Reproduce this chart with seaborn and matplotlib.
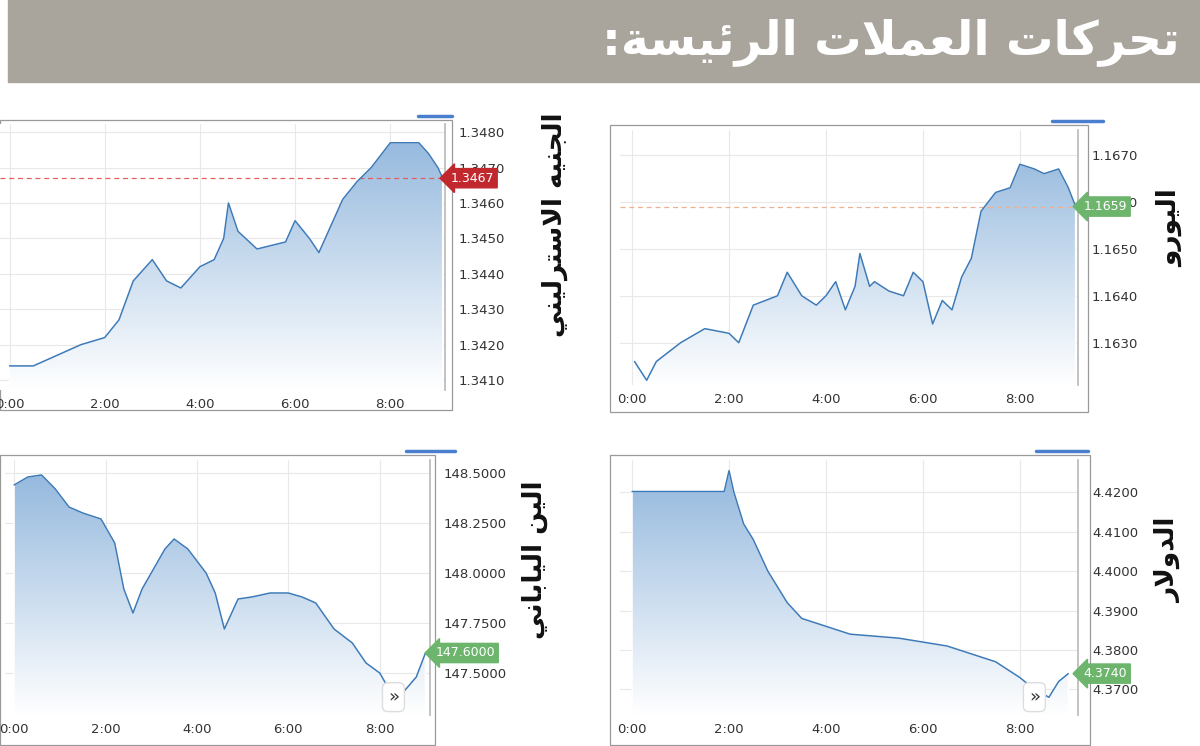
import numpy as np
import pandas as pd
import matplotlib
matplotlib.use("Agg")
import matplotlib.pyplot as plt
import seaborn as sns
from matplotlib.patches import Rectangle, Polygon

sns.set_theme(style="white")
plt.rcParams['font.family'] = ['DejaVu Sans']

# ---------------- data ----------------
eur_t = [0.05,0.3,0.5,1.0,1.5,2.0,2.2,2.5,3.0,3.2,3.5,3.8,4.0,4.2,4.4,4.6,4.7,4.9,5.0,5.3,5.6,5.8,6.0,6.2,6.4,6.6,6.8,7.0,7.2,7.5,7.8,8.0,8.3,8.5,8.8,9.0,9.15]
eur_v = [1.1626,1.1622,1.1626,1.1630,1.1633,1.1632,1.1630,1.1638,1.1640,1.1645,1.1640,1.1638,1.1640,1.1643,1.1637,1.1642,1.1649,1.1642,1.1643,1.1641,1.1640,1.1645,1.1643,1.1634,1.1639,1.1637,1.1644,1.1648,1.1658,1.1662,1.1663,1.1668,1.1667,1.1666,1.1667,1.1663,1.1659]
gbp_t = [0,0.5,1,1.5,2,2.3,2.6,3.0,3.3,3.6,4.0,4.3,4.5,4.6,4.8,5.2,5.5,5.8,6.0,6.3,6.5,6.7,7.0,7.3,7.6,8.0,8.3,8.6,8.8,9.0,9.1]
gbp_v = [1.3414,1.3414,1.3417,1.3420,1.3422,1.3427,1.3438,1.3444,1.3438,1.3436,1.3442,1.3444,1.3450,1.3460,1.3452,1.3447,1.3448,1.3449,1.3455,1.3450,1.3446,1.3452,1.3461,1.3466,1.3470,1.3477,1.3477,1.3477,1.3474,1.3470,1.3467]
jpy_t = [0,0.3,0.6,0.9,1.2,1.5,1.9,2.2,2.4,2.6,2.8,3.0,3.3,3.5,3.8,4.2,4.4,4.6,4.9,5.2,5.6,6.0,6.3,6.6,7.0,7.4,7.7,8.0,8.2,8.5,8.8,9.0]
jpy_v = [148.44,148.48,148.49,148.42,148.33,148.30,148.27,148.15,147.92,147.80,147.92,148.00,148.12,148.17,148.12,148.00,147.90,147.72,147.87,147.88,147.90,147.90,147.88,147.85,147.72,147.65,147.55,147.50,147.42,147.40,147.48,147.60]
usd_t = [0,1.9,2.0,2.1,2.3,2.5,2.8,3.2,3.5,4.0,4.5,5.0,5.5,6.0,6.5,7.0,7.5,8.0,8.3,8.6,8.8,9.0]
usd_v = [4.4202,4.4202,4.4255,4.4200,4.4120,4.4080,4.4000,4.3920,4.3880,4.3860,4.3840,4.3835,4.3830,4.3820,4.3810,4.3790,4.3770,4.3730,4.3700,4.3680,4.3720,4.3740]
x_ticks = [0,2,4,6,8]
x_labels = ["0:00","2:00","4:00","6:00","8:00"]

title_txt = "تحركات العملات الرئيسة:"
names = {"eur": "اليورو", "gbp": "الجنيه الاسترليني", "jpy": "الين الياباني", "usd": "الدولار"}

# ------------- simple Arabic shaping -------------
F = {
 'ا':(0xFE8D,0xFE8E),'ة':(0xFE93,0xFE94),'د':(0xFEA9,0xFEAA),'ر':(0xFEAD,0xFEAE),'و':(0xFEED,0xFEEE),
 'ب':(0xFE8F,0xFE90,0xFE91,0xFE92),'ت':(0xFE95,0xFE96,0xFE97,0xFE98),'ج':(0xFE9D,0xFE9E,0xFE9F,0xFEA0),
 'ح':(0xFEA1,0xFEA2,0xFEA3,0xFEA4),'س':(0xFEB1,0xFEB2,0xFEB3,0xFEB4),'ع':(0xFEC9,0xFECA,0xFECB,0xFECC),
 'ك':(0xFED9,0xFEDA,0xFEDB,0xFEDC),'ل':(0xFEDD,0xFEDE,0xFEDF,0xFEE0),'م':(0xFEE1,0xFEE2,0xFEE3,0xFEE4),
 'ن':(0xFEE5,0xFEE6,0xFEE7,0xFEE8),'ه':(0xFEE9,0xFEEA,0xFEEB,0xFEEC),'ي':(0xFEF1,0xFEF2,0xFEF3,0xFEF4),
 'ئ':(0xFE89,0xFE8A,0xFE8B,0xFE8C),
}
def shape(s):
    chars = []
    i = 0
    while i < len(s):
        if s[i] == 'ل' and i+1 < len(s) and s[i+1] == 'ا':
            chars.append('LA'); i += 2
        else:
            chars.append(s[i]); i += 1
    out = []
    for k, c in enumerate(chars):
        prev = chars[k-1] if k > 0 else None
        nxt = chars[k+1] if k+1 < len(chars) else None
        jp = prev is not None and prev in F and len(F[prev]) == 4
        if c == 'LA':
            out.append(chr(0xFEFC if jp else 0xFEFB)); continue
        if c not in F:
            out.append(c); continue
        f = F[c]
        jn = len(f) == 4 and nxt is not None and (nxt in F or nxt == 'LA')
        if jp and jn: out.append(chr(f[3]))
        elif jp: out.append(chr(f[1]))
        elif jn: out.append(chr(f[2]))
        else: out.append(chr(f[0]))
    return ''.join(out)[::-1]

W, H = 1200, 746
fig = plt.figure(figsize=(12, 7.46), dpi=100)

def px_axes(x0, y0, x1, y1):
    return fig.add_axes([x0/W, 1-y1/H, (x1-x0)/W, (y1-y0)/H])

# banner / overlay
bax = fig.add_axes([0, 0, 1, 1]); bax.set_xlim(0, W); bax.set_ylim(H, 0); bax.axis('off')
bax.add_patch(Rectangle((8, 0), W-8, 82, color='#aaa59c'))
bax.text(1180, 42, shape(title_txt), ha='right', va='center', color='white', fontsize=34, fontweight='bold')

blue = '#3d7ab8'

def panel(box, axbox, t, v, xlim, ylim, yticks, yfmt, last, tagcol, name, namex, dashcol=None, btn=False, selx=None):
    bax.add_patch(Rectangle((box[0], box[1]), box[2]-box[0], box[3]-box[1], fill=False, ec='#999999', lw=0.9))
    ax = px_axes(*axbox)
    df = pd.DataFrame({"t": t, "v": v})
    ax.set_xlim(*xlim); ax.set_ylim(*ylim)
    grad = np.linspace(0, 1, 256).reshape(-1, 1)
    im = ax.imshow(grad, extent=[xlim[0], xlim[1], ylim[0], ylim[1]], aspect='auto', origin='lower',
                   cmap=matplotlib.colors.LinearSegmentedColormap.from_list('g', ['#ffffff', '#8fb5dc']), zorder=1,
                   vmin=0, vmax=1)
    poly = Polygon(list(zip(t, v)) + [(t[-1], ylim[0]), (t[0], ylim[0])], closed=True, transform=ax.transData, facecolor='none')
    ax.add_patch(poly); im.set_clip_path(poly)
    sns.lineplot(data=df, x="t", y="v", ax=ax, color=blue, lw=1.1, zorder=3)
    ax.yaxis.tick_right()
    ax.set_yticks(yticks); ax.set_yticklabels([yfmt.format(y) for y in yticks])
    ax.set_xticks(x_ticks); ax.set_xticklabels(x_labels)
    ax.tick_params(labelsize=9.5, colors='#333333', length=0, pad=6)
    ax.tick_params(axis='y', pad=10)
    ax.grid(True, color='#e8e8e8', lw=0.8, zorder=0)
    ax.set_xlabel(""); ax.set_ylabel("")
    for s in ax.spines.values():
        s.set_visible(False)
    ax.spines['right'].set_visible(True); ax.spines['right'].set_color('#bbbbbb')
    if dashcol:
        ax.axhline(last, color=dashcol, ls=(0, (4, 3)), lw=0.9, zorder=2)
    ax.annotate(yfmt.format(last), xy=(1.0, last), xycoords=('axes fraction', 'data'), xytext=(4, 0),
                textcoords='offset points', ha='left', va='center', color='white', fontsize=9,
                bbox=dict(boxstyle='larrow,pad=0.25', fc=tagcol, ec=tagcol), zorder=5, annotation_clip=False)
    if btn:
        ax.text(8.3, ylim[0] + (ylim[1]-ylim[0])*0.07, "»", ha='center', va='center', fontsize=13, color='#333',
                bbox=dict(boxstyle='round,pad=0.3', fc='white', ec='#dddddd'), zorder=6)
    if selx:
        bax.plot(selx, [box[1]-4, box[1]-4], color='#4a7fd0', lw=2.5)
    bax.text(namex, (box[1]+box[3])/2 - 40, shape(name), rotation=90, ha='center', va='center',
             fontsize=19, fontweight='bold', color='#111')
    return ax

panel((610, 125, 1088, 412), (620, 130, 1078, 385), eur_t, eur_v, (-0.25, 9.2), (1.1621, 1.16753),
      [1.1630, 1.1640, 1.1650, 1.1660, 1.1670], "{:.4f}", 1.1659, '#6db56d', names["eur"], 1170,
      dashcol='#f0b090', selx=(1052, 1103))
panel((0, 120, 452, 410), (0, 124, 445, 390), gbp_t, gbp_v, (-0.2, 9.15), (1.34072, 1.34823),
      [1.3410, 1.3420, 1.3430, 1.3440, 1.3450, 1.3460, 1.3470, 1.3480], "{:.4f}", 1.3467, '#c0282d', names["gbp"], 555,
      dashcol='#e06060', selx=(418, 452))
panel((0, 455, 435, 745), (5, 460, 430, 715), jpy_t, jpy_v, (-0.2, 9.1), (147.29, 148.565),
      [147.5, 147.75, 148.0, 148.25, 148.5], "{:.4f}", 147.60, '#6db56d', names["jpy"], 535,
      btn=True, selx=(406, 455))
panel((610, 455, 1090, 745), (620, 460, 1078, 715), usd_t, usd_v, (-0.25, 9.2), (4.3635, 4.4282),
      [4.3700, 4.3800, 4.3900, 4.4000, 4.4100, 4.4200], "{:.4f}", 4.3740, '#6db56d', names["usd"], 1168,
      btn=True, selx=(1036, 1088))

fig.savefig("out.png", dpi=100)
